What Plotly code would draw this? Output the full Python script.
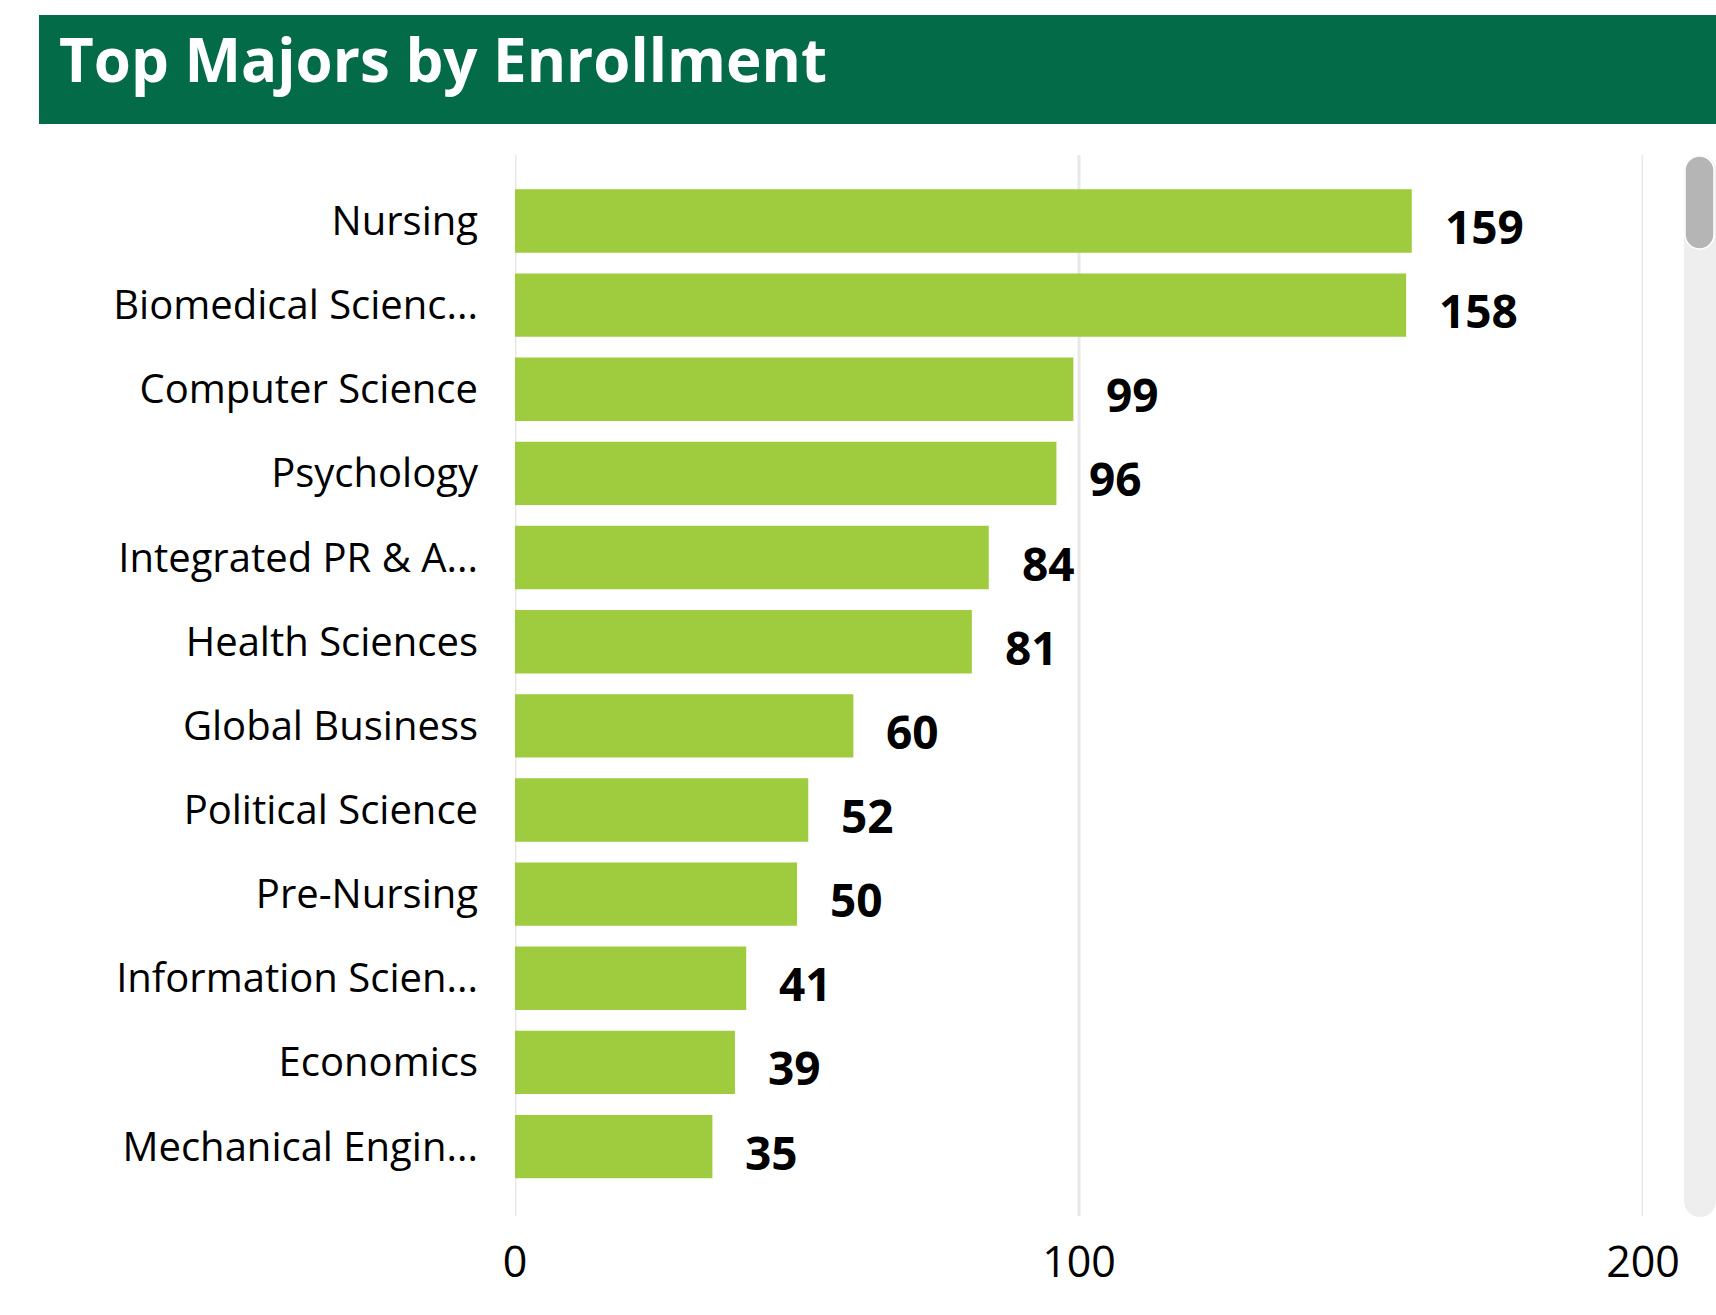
import plotly.graph_objects as go

# ---- data ----
majors = [
    "Nursing",
    "Biomedical Scienc...",
    "Computer Science",
    "Psychology",
    "Integrated PR & A...",
    "Health Sciences",
    "Global Business",
    "Political Science",
    "Pre-Nursing",
    "Information Scien...",
    "Economics",
    "Mechanical Engin...",
]
enrollment = [159, 158, 99, 96, 84, 81, 60, 52, 50, 41, 39, 35]
x_ticks = [0, 100, 200]
title_text = "Top Majors by Enrollment"

# ---- layout geometry (pixels) ----
W, H = 1716, 1315
ML, MR, MT, MB = 515, 73, 155, 99
PW, PH = W - ML - MR, H - MT - MB

def px(x):
    return (x - ML) / PW

def py(y):
    return (H - MB - y) / PH

BAR = "#9ecc3e"
GREEN = "#036b48"
GRID = "#e8e8e8"
FONT = "Open Sans"

fig = go.Figure()
fig.add_trace(go.Bar(
    x=enrollment,
    y=majors,
    orientation="h",
    marker=dict(color=BAR, line=dict(width=0)),
    hoverinfo="skip",
))

annotations = []
for m, v in zip(majors, enrollment):
    annotations.append(dict(
        x=v, y=m, xref="x", yref="y", text=str(v), showarrow=False,
        xanchor="left", yanchor="middle", xshift=31, yshift=-5,
        font=dict(family=FONT, size=46, color="#000000", weight=700),
    ))

# title
annotations.append(dict(
    x=px(57), y=py(59), xref="paper", yref="paper", text=title_text,
    showarrow=False, xanchor="left", yanchor="middle",
    font=dict(family=FONT, size=60, color="#ffffff", weight=700),
))

shapes = []
# title band
shapes.append(dict(type="rect", xref="paper", yref="paper",
                   x0=px(39), x1=px(W + 2), y0=py(124), y1=py(15),
                   fillcolor=GREEN, line=dict(width=0), layer="below"))

# vertical gridlines at every tick (including range edges)
for t in x_ticks:
    shapes.append(dict(type="line", xref="x", yref="paper", x0=t, x1=t, y0=0, y1=1,
                       line=dict(color=GRID, width=3), layer="below"))

def rounded_path(x0, x1, y0, y1, r_top, r_bot):
    pts = [f"M{px(x0)},{py(y0 + r_top)}"]
    pts.append(f"C{px(x0)},{py(y0 + r_top*0.45)} {px(x0 + r_top*0.45)},{py(y0)} {px((x0+x1)/2)},{py(y0)}")
    pts.append(f"C{px(x1 - r_top*0.45)},{py(y0)} {px(x1)},{py(y0 + r_top*0.45)} {px(x1)},{py(y0 + r_top)}")
    pts.append(f"L{px(x1)},{py(y1 - r_bot)}")
    pts.append(f"C{px(x1)},{py(y1 - r_bot*0.45)} {px(x1 - r_bot*0.45)},{py(y1)} {px((x0+x1)/2)},{py(y1)}")
    pts.append(f"C{px(x0 + r_bot*0.45)},{py(y1)} {px(x0)},{py(y1 - r_bot*0.45)} {px(x0)},{py(y1 - r_bot)}")
    pts.append("Z")
    return " ".join(pts)

# scrollbar track
shapes.append(dict(type="path", xref="paper", yref="paper",
                   path=rounded_path(1684, 1716, 155, 1217, 16, 16),
                   fillcolor="#eeeeee", line=dict(width=0), layer="above"))
# scrollbar thumb
shapes.append(dict(type="path", xref="paper", yref="paper",
                   path=rounded_path(1685, 1714, 156, 249, 14.5, 14.5),
                   fillcolor="#b5b5b5", line=dict(width=1.5, color="#ffffff"), layer="above"))

fig.update_layout(
    width=W, height=H,
    margin=dict(l=ML, r=MR, t=MT, b=MB, pad=0),
    paper_bgcolor="#ffffff", plot_bgcolor="#ffffff",
    showlegend=False,
    bargap=0.247,
    annotations=annotations,
    shapes=shapes,
    xaxis=dict(
        range=[0, 200], tickvals=x_ticks, ticktext=[str(t) for t in x_ticks],
        showgrid=False, zeroline=False, showline=False, ticks="",
        tickfont=dict(family=FONT, size=43, color="#000000"),
        ticklabelstandoff=17, fixedrange=True,
    ),
    yaxis=dict(
        categoryorder="array", categoryarray=majors,
        range=[11.825, -0.784],
        showgrid=False, zeroline=False, showline=False, ticks="",
        tickfont=dict(family=FONT, size=40, color="#000000"),
        ticklabelstandoff=36, fixedrange=True,
    ),
)

fig.write_html("out.html", config={"displayModeBar": False},
               post_script="document.body.style.margin='0';document.body.style.overflow='hidden';")
